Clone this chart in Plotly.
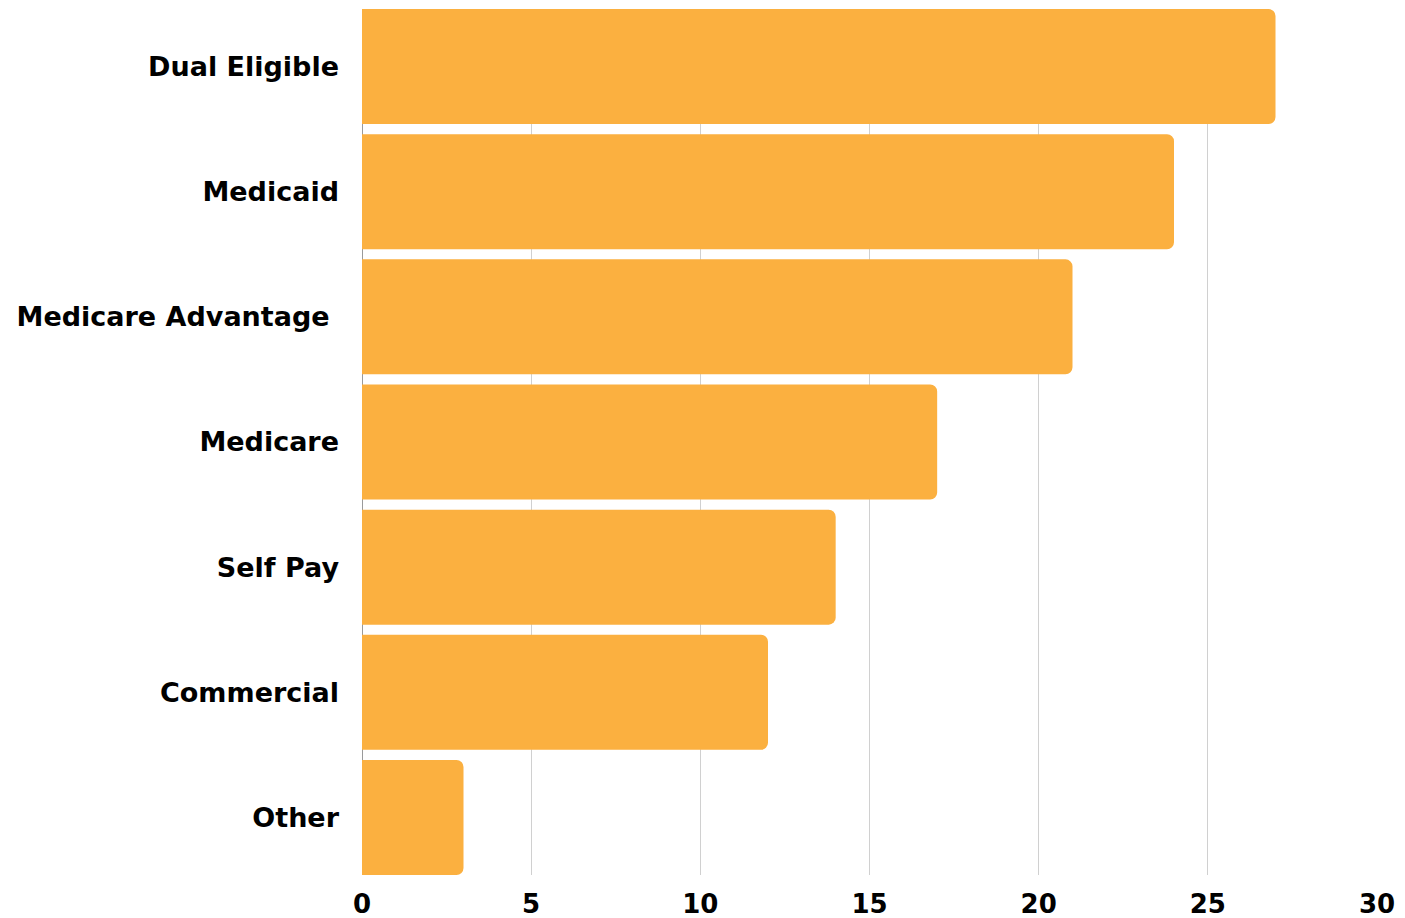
import plotly.graph_objects as go

categories = ["Dual Eligible", "Medicaid", "Medicare Advantage ", "Medicare", "Self Pay", "Commercial", "Other"]
values = [27, 24, 21, 17, 14, 12, 3]
x_ticks = [0, 5, 10, 15, 20, 25, 30]

gap = 0.081
half = (1 - gap) / 2

fig = go.Figure(go.Bar(
    x=values,
    y=categories,
    orientation="h",
    marker=dict(color="#FBB040", line=dict(width=0)),
    hoverinfo="x+y",
))

fig.update_layout(
    width=1397, height=910,
    margin=dict(l=354, r=28, t=1, b=43, autoexpand=False),
    paper_bgcolor="white",
    plot_bgcolor="white",
    bargap=gap,
    barcornerradius=7,
    showlegend=False,
    font=dict(family="DejaVu Sans", color="black"),
)
fig.update_xaxes(
    range=[0, 30],
    tickvals=x_ticks,
    automargin=False,
    showgrid=True,
    gridcolor="#d0d0d0",
    gridwidth=1,
    zeroline=True,
    zerolinecolor="#9a9a9a",
    zerolinewidth=1,
    showline=False,
    ticks="",
    tickfont=dict(family="DejaVu Sans", size=26, color="black", weight="bold"),
    ticklabelstandoff=11,
)
fig.update_yaxes(
    type="category",
    categoryorder="array",
    categoryarray=categories,
    range=[len(categories) - 1 + half, -half],
    automargin=False,
    showgrid=False,
    showline=False,
    ticks="",
    ticklabelstandoff=22,
    tickfont=dict(family="DejaVu Sans", size=27, color="black", weight="bold"),
)

fig.write_html("out.html")
